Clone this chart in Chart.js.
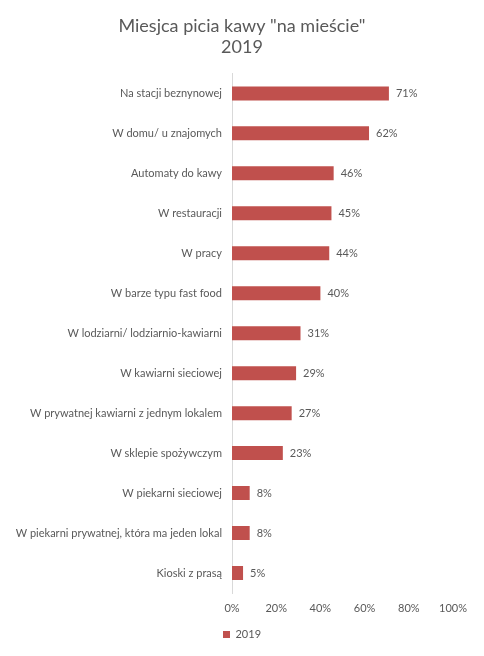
<!DOCTYPE html>
<html><head><meta charset="utf-8">
<script src="https://cdn.jsdelivr.net/npm/chart.js@4"></script>
<style>html,body{margin:0;padding:0;background:#fff}#wrap{width:484px;height:656px}</style>
</head><body><div id="wrap"><canvas id="c" width="484" height="656"></canvas></div>
<script>
const categories = ["Na stacji beznynowej","W domu/ u znajomych","Automaty do kawy","W restauracji","W pracy","W barze typu fast food","W lodziarni/ lodziarnio-kawiarni","W kawiarni sieciowej","W prywatnej kawiarni z jednym lokalem","W sklepie spożywczym","W piekarni sieciowej","W piekarni prywatnej, która ma jeden lokal","Kioski z prasą"];
const values2019 = [71,62,46,45,44,40,31,29,27,23,8,8,5];
const seriesName = "2019";
const titleLines = ['Miesjca picia kawy "na mieście"', '2019'];
const FONT = "Lato, 'Open Sans', sans-serif";
const GREY = "#595959";

const labelPlugin = {
  id:'barLabels',
  afterDatasetsDraw(chart){
    const ctx = chart.ctx;
    const meta = chart.getDatasetMeta(0);
    ctx.save();
    ctx.font = "11px " + FONT;
    ctx.fillStyle = GREY;
    ctx.textBaseline = 'middle';
    ctx.textAlign = 'left';
    meta.data.forEach((bar,i)=>{
      ctx.fillText(values2019[i] + '%', bar.x + 7, bar.y);
    });
    ctx.restore();
  }
};

new Chart(document.getElementById('c'), {
  type:'bar',
  data:{labels:categories, datasets:[{label:seriesName, data:values2019, backgroundColor:'#C0504D', borderWidth:0, barPercentage:0.7, categoryPercentage:0.5}]},
  options:{
    indexAxis:'y', responsive:false, animation:false,
    layout:{padding:{left:0,right:0,top:0,bottom:6}},
    plugins:{
      title:{display:true, text:titleLines, color:GREY, font:{family:FONT,size:18,weight:'normal',lineHeight:1.15}, padding:{top:16,bottom:16}},
      legend:{position:'bottom', labels:{color:GREY, font:{family:FONT,size:11}, boxWidth:7, boxHeight:7, padding:8}},
      tooltip:{enabled:false}
    },
    scales:{
      x:{min:0,max:100, ticks:{stepSize:20, color:GREY, font:{family:FONT,size:11}, padding:9, callback:v=>v+'%'}, grid:{display:false, drawTicks:false}, border:{display:false},
         afterFit(s){ s.height = 28; s.paddingRight = 31; }},
      y:{ticks:{color:GREY, font:{family:FONT,size:11}, padding:10}, grid:{display:false, drawTicks:false}, border:{display:true, color:'#d9d9d9', width:1},
         afterFit(s){ s.width = 232; }}
    }
  },
  plugins:[labelPlugin]
});
</script></body></html>
